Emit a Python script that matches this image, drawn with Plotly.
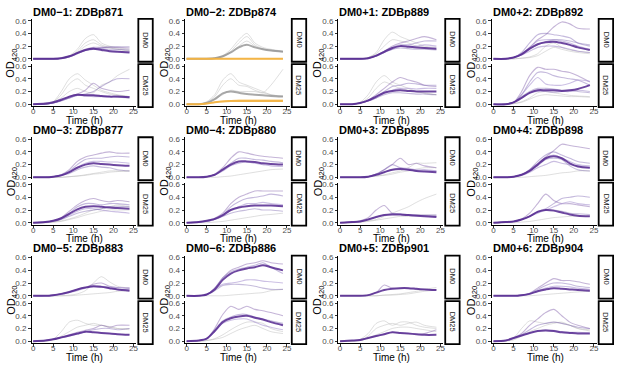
import plotly.graph_objects as go

W, H = 617, 392
T = [0, 3, 5, 7, 9, 11, 13, 15, 17, 19, 21, 24]
TITLES = ["DM0\u22121: ZDBp871", "DM0\u22122: ZDBp874", "DM0+1: ZDBp889", "DM0+2: ZDBp892",
          "DM0\u22123: ZDBp877", "DM0\u22124: ZDBp880", "DM0+3: ZDBp895", "DM0+4: ZDBp898",
          "DM0\u22125: ZDBp883", "DM0\u22126: ZDBp886", "DM0+5: ZDBp901", "DM0+6: ZDBp904"]
MEDIA = ["DM0", "DM25"]
Y_TICKS = [0.0, 0.2, 0.4, 0.6]
X_TICKS = [0, 5, 10, 15, 20, 25]

# ---- panel 1: DM0-1 ----
P1_DM0_GREY = [[0,0,0,0.01,0.05,0.15,0.32,0.38,0.25,0.2,0.17,0.15],
               [0,0,0,0.01,0.04,0.12,0.25,0.3,0.22,0.18,0.15,0.13],
               [0,0,0,0.01,0.03,0.1,0.2,0.25,0.2,0.17,0.15,0.12]]
P1_DM0_PURP = [[0,0,0,0.01,0.04,0.1,0.15,0.18,0.18,0.18,0.18,0.17],
               [0,0,0,0.01,0.04,0.09,0.14,0.17,0.16,0.15,0.15,0.14],
               [0,0,0,0.01,0.03,0.08,0.13,0.16,0.15,0.13,0.12,0.11],
               [0,0,0,0.01,0.03,0.08,0.13,0.15,0.17,0.19,0.19,0.19]]
P1_DM0_MEAN = [0,0,0,0.01,0.04,0.09,0.14,0.16,0.14,0.12,0.11,0.10]
P1_DM25_GREY = [[0,0,0.04,0.2,0.4,0.48,0.38,0.3,0.22,0.18,0.15,0.12],
                [0,0,0.03,0.15,0.32,0.4,0.3,0.25,0.2,0.16,0.14,0.12],
                [0,0,0.03,0.1,0.2,0.25,0.2,0.18,0.3,0.35,0.45,0.55]]
P1_DM25_PURP = [[0,0,0.02,0.06,0.12,0.16,0.22,0.33,0.25,0.22,0.2,0.22],
                [0,0,0.02,0.06,0.1,0.14,0.16,0.2,0.28,0.35,0.4,0.4],
                [0,0,0.02,0.06,0.1,0.14,0.13,0.12,0.12,0.12,0.12,0.12],
                [0,0,0.02,0.05,0.1,0.15,0.15,0.14,0.13,0.12,0.11,0.1]]
P1_DM25_MEAN = [0,0.01,0.03,0.07,0.12,0.15,0.14,0.14,0.13,0.12,0.12,0.11]

# ---- panel 2: DM0-2 (orange) ----
P2_DM0_GREY = [[0,0,0,0.01,0.05,0.15,0.3,0.4,0.25,0.18,0.15,0.12],
               [0,0,0,0.01,0.04,0.12,0.25,0.35,0.22,0.16,0.14,0.12],
               [0,0,0,0.01,0.03,0.1,0.2,0.28,0.2,0.15,0.13,0.11]]
P2_DM0_REF = [0,0,0,0.01,0.04,0.1,0.18,0.22,0.18,0.15,0.13,0.11]
P2_DM0_PURP = [[0,0,0,0,0,0,0,0,0,0,0,0]]
P2_DM0_MEAN = [0,0,0,0,0,0,0,0,0,0,0,0]
P2_DM25_GREY = [[0,0,0.04,0.15,0.38,0.48,0.35,0.3,0.25,0.2,0.15,0.13],
                [0,0,0.03,0.12,0.3,0.4,0.3,0.28,0.22,0.18,0.15,0.12],
                [0,0,0.02,0.08,0.15,0.22,0.2,0.2,0.2,0.18,0.3,0.55]]
P2_DM25_REF = [0,0,0.02,0.08,0.17,0.2,0.18,0.16,0.15,0.14,0.13,0.12]
P2_DM25_PURP = [[0,0,0.01,0.03,0.05,0.06,0.07,0.07,0.07,0.07,0.07,0.07]]
P2_DM25_MEAN = [0,0,0.01,0.03,0.045,0.05,0.05,0.05,0.05,0.05,0.05,0.05]

# ---- panel 3: DM0+1 ----
P3_DM0_GREY = [[0,0,0,0.02,0.1,0.3,0.42,0.35,0.3,0.25,0.2,0.18],
               [0,0,0,0.02,0.08,0.2,0.3,0.28,0.25,0.2,0.18,0.15]]
P3_DM0_PURP = [[0,0,0,0.01,0.05,0.12,0.2,0.25,0.28,0.32,0.35,0.3],
               [0,0,0,0.01,0.05,0.12,0.18,0.22,0.22,0.25,0.28,0.28],
               [0,0,0,0.01,0.04,0.1,0.15,0.2,0.2,0.2,0.22,0.2],
               [0,0,0,0.01,0.04,0.1,0.15,0.17,0.16,0.15,0.15,0.14]]
P3_DM0_MEAN = [0,0,0,0.01,0.05,0.11,0.17,0.2,0.19,0.18,0.17,0.16]
P3_DM25_GREY = [[0,0,0.03,0.15,0.35,0.45,0.35,0.3,0.25,0.2,0.18,0.15],
                [0,0,0.02,0.1,0.25,0.35,0.3,0.25,0.22,0.2,0.17,0.15]]
P3_DM25_PURP = [[0,0,0.02,0.06,0.15,0.25,0.35,0.42,0.38,0.35,0.3,0.28],
                [0,0,0.02,0.05,0.12,0.2,0.28,0.3,0.33,0.32,0.3,0.3],
                [0,0,0.02,0.05,0.1,0.18,0.22,0.25,0.25,0.24,0.25,0.25],
                [0,0,0.02,0.05,0.1,0.15,0.18,0.18,0.17,0.16,0.16,0.15]]
P3_DM25_MEAN = [0,0,0.02,0.06,0.12,0.18,0.21,0.22,0.21,0.2,0.2,0.2]

# ---- panel 4: DM0+2 ----
P4_DM0_GREY = [[0,0,0,0.01,0.03,0.08,0.2,0.25,0.18,0.14,0.12,0.1],
               [0,0,0,0.01,0.02,0.05,0.12,0.18,0.15,0.12,0.1,0.08]]
P4_DM0_PURP = [[0,0,0.02,0.08,0.18,0.3,0.38,0.5,0.58,0.55,0.48,0.47],
               [0,0,0.02,0.1,0.25,0.38,0.4,0.38,0.36,0.33,0.25,0.2],
               [0,0,0.02,0.08,0.18,0.28,0.3,0.3,0.28,0.25,0.2,0.15],
               [0,0,0.02,0.07,0.15,0.22,0.27,0.3,0.3,0.28,0.25,0.22],
               [0,0,0.02,0.06,0.12,0.18,0.2,0.2,0.18,0.15,0.12,0.1]]
P4_DM0_MEAN = [0,0,0.02,0.07,0.16,0.23,0.26,0.27,0.25,0.22,0.18,0.14]
P4_DM25_GREY = [[0,0,0.01,0.04,0.1,0.18,0.2,0.18,0.16,0.14,0.13,0.12],
                [0,0,0.01,0.03,0.08,0.13,0.15,0.14,0.13,0.12,0.12,0.11]]
P4_DM25_PURP = [[0,0,0.03,0.2,0.45,0.58,0.55,0.55,0.52,0.5,0.45,0.35],
                [0,0,0.03,0.15,0.35,0.5,0.5,0.45,0.42,0.4,0.38,0.3],
                [0,0,0.03,0.15,0.3,0.42,0.32,0.3,0.3,0.33,0.38,0.36],
                [0,0,0.03,0.12,0.2,0.25,0.25,0.24,0.22,0.22,0.2,0.18],
                [0,0,0.03,0.1,0.18,0.2,0.2,0.19,0.2,0.2,0.22,0.2]]
P4_DM25_MEAN = [0,0,0.03,0.1,0.18,0.22,0.22,0.22,0.21,0.22,0.24,0.3]

# ---- panel 5: DM0-3 ----
P5_DM0_GREY = [[0,0,0,0,0.01,0.02,0.04,0.06,0.08,0.1,0.1,0.1],
               [0,0,0,0,0.01,0.02,0.03,0.05,0.06,0.08,0.09,0.1]]
P5_DM0_PURP = [[0,0,0.01,0.04,0.12,0.25,0.32,0.35,0.38,0.4,0.38,0.38],
               [0,0,0.01,0.04,0.1,0.2,0.28,0.3,0.3,0.32,0.33,0.32],
               [0,0,0.01,0.03,0.08,0.16,0.22,0.25,0.25,0.24,0.24,0.22],
               [0,0,0.01,0.03,0.06,0.12,0.16,0.18,0.16,0.15,0.12,0.1]]
P5_DM0_MEAN = [0,0,0.01,0.03,0.08,0.15,0.2,0.22,0.21,0.2,0.19,0.18]
P5_DM25_GREY = [[0,0,0.01,0.03,0.06,0.1,0.15,0.2,0.22,0.25,0.28,0.25],
                [0,0,0.01,0.02,0.05,0.08,0.12,0.15,0.18,0.2,0.2,0.2]]
P5_DM25_PURP = [[0,0.01,0.03,0.08,0.18,0.28,0.35,0.38,0.35,0.33,0.35,0.33],
                [0,0.01,0.03,0.07,0.15,0.25,0.3,0.3,0.28,0.3,0.3,0.28],
                [0,0.01,0.03,0.06,0.12,0.18,0.22,0.22,0.2,0.18,0.17,0.15],
                [0,0.01,0.02,0.05,0.1,0.15,0.18,0.2,0.22,0.25,0.26,0.25]]
P5_DM25_MEAN = [0,0.01,0.03,0.07,0.14,0.21,0.25,0.26,0.25,0.24,0.23,0.22]

# ---- panel 6: DM0-4 ----
P6_DM0_GREY = [[0,0,0,0,0.01,0.02,0.04,0.06,0.08,0.1,0.12,0.13]]
P6_DM0_PURP = [[0,0,0.01,0.05,0.15,0.3,0.4,0.38,0.35,0.33,0.32,0.3],
               [0,0,0.01,0.04,0.12,0.22,0.3,0.3,0.28,0.27,0.25,0.23],
               [0,0,0.01,0.04,0.1,0.18,0.22,0.24,0.22,0.2,0.18,0.17]]
P6_DM0_MEAN = [0,0,0.01,0.04,0.12,0.2,0.25,0.25,0.24,0.22,0.21,0.2]
P6_DM25_GREY = [[0,0,0,0.01,0.02,0.04,0.06,0.08,0.1,0.12,0.13,0.15]]
P6_DM25_PURP = [[0,0.01,0.03,0.07,0.15,0.3,0.4,0.45,0.5,0.5,0.5,0.5],
                [0,0.01,0.03,0.06,0.12,0.25,0.33,0.38,0.4,0.42,0.45,0.42],
                [0,0.01,0.02,0.05,0.1,0.2,0.25,0.3,0.3,0.32,0.3,0.28],
                [0,0.01,0.02,0.05,0.1,0.15,0.18,0.2,0.22,0.2,0.2,0.18]]
P6_DM25_MEAN = [0,0.01,0.03,0.06,0.12,0.2,0.24,0.26,0.27,0.27,0.27,0.26]

# ---- panel 7: DM0+3 ----
P7_DM0_GREY = [[0,0,0,0.01,0.02,0.04,0.07,0.1,0.15,0.22,0.22,0.23],
               [0,0,0,0.01,0.02,0.03,0.05,0.08,0.1,0.13,0.15,0.15]]
P7_DM0_PURP = [[0,0,0,0.01,0.05,0.12,0.2,0.3,0.2,0.22,0.18,0.15],
               [0,0,0,0.01,0.05,0.12,0.2,0.15,0.12,0.1,0.1,0.1],
               [0,0,0,0.01,0.04,0.08,0.12,0.15,0.14,0.12,0.12,0.1]]
P7_DM0_MEAN = [0,0,0,0.01,0.04,0.08,0.12,0.13,0.12,0.1,0.09,0.08]
P7_DM25_GREY = [[0,0,0.01,0.03,0.05,0.1,0.15,0.2,0.25,0.32,0.38,0.45],
                [0,0,0.01,0.02,0.04,0.06,0.08,0.1,0.1,0.12,0.12,0.12]]
P7_DM25_PURP = [[0,0.01,0.03,0.08,0.2,0.27,0.15,0.13,0.12,0.12,0.11,0.1],
                [0,0.01,0.02,0.05,0.09,0.12,0.14,0.14,0.13,0.12,0.12,0.12]]
P7_DM25_MEAN = [0,0.01,0.02,0.05,0.09,0.12,0.13,0.13,0.12,0.11,0.1,0.09]

# ---- panel 8: DM0+4 ----
P8_DM0_GREY = [[0,0,0,0,0.01,0.02,0.03,0.05,0.07,0.08,0.1,0.1]]
P8_DM0_PURP = [[0,0,0.01,0.04,0.12,0.22,0.32,0.42,0.52,0.5,0.48,0.45],
               [0,0,0.01,0.04,0.12,0.25,0.35,0.4,0.35,0.3,0.25,0.22],
               [0,0,0.01,0.04,0.1,0.2,0.3,0.35,0.3,0.25,0.2,0.18],
               [0,0,0.01,0.04,0.1,0.18,0.28,0.3,0.28,0.18,0.12,0.1],
               [0,0,0.01,0.03,0.08,0.15,0.2,0.25,0.22,0.2,0.18,0.15]]
P8_DM0_MEAN = [0,0,0.01,0.04,0.1,0.2,0.3,0.33,0.3,0.22,0.17,0.15]
P8_DM25_GREY = [[0,0,0,0.01,0.02,0.04,0.06,0.08,0.09,0.1,0.1,0.1]]
P8_DM25_PURP = [[0,0.01,0.02,0.06,0.15,0.3,0.45,0.35,0.3,0.3,0.28,0.25],
                [0,0.01,0.02,0.05,0.1,0.18,0.22,0.3,0.38,0.4,0.42,0.4],
                [0,0.01,0.02,0.05,0.1,0.15,0.2,0.25,0.3,0.33,0.3,0.28],
                [0,0.01,0.02,0.05,0.1,0.17,0.2,0.2,0.18,0.15,0.14,0.13]]
P8_DM25_MEAN = [0,0.01,0.02,0.05,0.1,0.17,0.2,0.19,0.16,0.13,0.11,0.1]

# ---- panel 9: DM0-5 ----
P9_DM0_GREY = [[0,0,0,0,0,0.01,0.02,0.03,0.04,0.05,0.07,0.08],
               [0,0,0,0,0.01,0.03,0.08,0.2,0.3,0.22,0.15,0.12]]
P9_DM0_PURP = [[0,0,0.01,0.03,0.06,0.1,0.13,0.18,0.2,0.15,0.13,0.12],
               [0,0,0.01,0.03,0.06,0.1,0.13,0.15,0.15,0.12,0.1,0.1],
               [0,0,0.01,0.02,0.05,0.08,0.12,0.14,0.14,0.14,0.13,0.12]]
P9_DM0_MEAN = [0,0,0.01,0.03,0.06,0.1,0.13,0.15,0.14,0.12,0.1,0.08]
P9_DM25_GREY = [[0,0,0.03,0.15,0.3,0.33,0.28,0.25,0.25,0.22,0.2,0.2],
                [0,0,0.02,0.08,0.15,0.22,0.25,0.28,0.25,0.23,0.2,0.18]]
P9_DM25_PURP = [[0,0.01,0.03,0.06,0.1,0.14,0.17,0.2,0.25,0.22,0.25,0.25],
                [0,0.01,0.03,0.06,0.09,0.12,0.15,0.18,0.2,0.2,0.18,0.2],
                [0,0.01,0.03,0.05,0.08,0.11,0.14,0.14,0.13,0.12,0.11,0.1]]
P9_DM25_MEAN = [0,0.01,0.03,0.06,0.09,0.12,0.15,0.14,0.13,0.12,0.11,0.1]

# ---- panel 10: DM0-6 ----
P10_DM0_GREY = [[0,0,0,0,0,0.01,0.02,0.03,0.04,0.05,0.08,0.1]]
P10_DM0_PURP = [[0,0,0.02,0.12,0.28,0.4,0.45,0.5,0.52,0.55,0.52,0.5],
                [0,0,0.02,0.12,0.28,0.38,0.42,0.45,0.48,0.52,0.45,0.35],
                [0,0,0.02,0.1,0.18,0.2,0.22,0.25,0.25,0.23,0.22,0.2],
                [0,0,0.02,0.08,0.16,0.18,0.18,0.17,0.15,0.12,0.1,0.1]]
P10_DM0_MEAN = [0,0,0.02,0.1,0.25,0.35,0.4,0.43,0.45,0.48,0.45,0.4]
P10_DM25_GREY = [[0,0,0.01,0.04,0.1,0.18,0.25,0.3,0.3,0.28,0.2,0.15],
                 [0,0,0.01,0.03,0.06,0.12,0.18,0.22,0.25,0.2,0.15,0.12]]
P10_DM25_PURP = [[0,0.01,0.04,0.2,0.42,0.55,0.5,0.55,0.5,0.48,0.45,0.4],
                 [0,0.01,0.04,0.18,0.32,0.38,0.42,0.42,0.38,0.35,0.32,0.28],
                 [0,0.01,0.04,0.15,0.28,0.33,0.35,0.35,0.3,0.25,0.22,0.18]]
P10_DM25_MEAN = [0,0.01,0.04,0.16,0.3,0.36,0.39,0.4,0.37,0.34,0.3,0.25]

# ---- panel 11: DM0+5 ----
P11_DM0_GREY = [[0,0,0,0,0,0.01,0.02,0.03,0.05,0.07,0.1,0.13],
                [0,0,0,0,0,0.01,0.01,0.02,0.03,0.05,0.07,0.09]]
P11_DM0_PURP = [[0,0,0,0.01,0.05,0.17,0.12,0.12,0.12,0.1,0.1,0.09]]
P11_DM0_MEAN = [0,0,0,0.01,0.05,0.09,0.11,0.12,0.12,0.11,0.1,0.09]
P11_DM25_GREY = [[0,0,0.03,0.12,0.28,0.32,0.25,0.3,0.3,0.25,0.22,0.2],
                 [0,0,0.02,0.08,0.2,0.25,0.28,0.25,0.28,0.3,0.25,0.22],
                 [0,0,0.01,0.05,0.1,0.15,0.2,0.22,0.22,0.2,0.18,0.15]]
P11_DM25_PURP = [[0,0.01,0.02,0.05,0.08,0.11,0.14,0.13,0.12,0.11,0.12,0.18]]
P11_DM25_MEAN = [0,0.01,0.02,0.05,0.08,0.11,0.14,0.13,0.12,0.11,0.1,0.1]

# ---- panel 12: DM0+6 ----
P12_DM0_GREY = [[0,0,0,0,0,0.01,0.02,0.03,0.04,0.05,0.06,0.07]]
P12_DM0_PURP = [[0,0,0,0.01,0.04,0.12,0.2,0.27,0.24,0.24,0.22,0.18],
                [0,0,0,0.01,0.03,0.1,0.16,0.2,0.2,0.18,0.15,0.13],
                [0,0,0,0.01,0.03,0.08,0.12,0.15,0.15,0.14,0.12,0.1]]
P12_DM0_MEAN = [0,0,0,0.01,0.03,0.07,0.1,0.12,0.11,0.1,0.09,0.08]
P12_DM25_GREY = [[0,0,0.05,0.2,0.32,0.3,0.28,0.3,0.28,0.25,0.2,0.18],
                 [0,0,0.02,0.08,0.15,0.2,0.25,0.28,0.3,0.25,0.2,0.16]]
P12_DM25_PURP = [[0,0.01,0.05,0.12,0.25,0.35,0.45,0.5,0.4,0.3,0.25,0.2],
                 [0,0.01,0.05,0.1,0.18,0.25,0.28,0.3,0.28,0.25,0.22,0.2],
                 [0,0.01,0.04,0.09,0.13,0.16,0.18,0.17,0.15,0.14,0.14,0.13]]
P12_DM25_MEAN = [0,0.01,0.05,0.09,0.13,0.16,0.17,0.16,0.14,0.13,0.12,0.12]

PANELS = [
    ((P1_DM0_GREY, P1_DM0_PURP, P1_DM0_MEAN, None), (P1_DM25_GREY, P1_DM25_PURP, P1_DM25_MEAN, None)),
    ((P2_DM0_GREY, P2_DM0_PURP, P2_DM0_MEAN, P2_DM0_REF), (P2_DM25_GREY, P2_DM25_PURP, P2_DM25_MEAN, P2_DM25_REF)),
    ((P3_DM0_GREY, P3_DM0_PURP, P3_DM0_MEAN, None), (P3_DM25_GREY, P3_DM25_PURP, P3_DM25_MEAN, None)),
    ((P4_DM0_GREY, P4_DM0_PURP, P4_DM0_MEAN, None), (P4_DM25_GREY, P4_DM25_PURP, P4_DM25_MEAN, None)),
    ((P5_DM0_GREY, P5_DM0_PURP, P5_DM0_MEAN, None), (P5_DM25_GREY, P5_DM25_PURP, P5_DM25_MEAN, None)),
    ((P6_DM0_GREY, P6_DM0_PURP, P6_DM0_MEAN, None), (P6_DM25_GREY, P6_DM25_PURP, P6_DM25_MEAN, None)),
    ((P7_DM0_GREY, P7_DM0_PURP, P7_DM0_MEAN, None), (P7_DM25_GREY, P7_DM25_PURP, P7_DM25_MEAN, None)),
    ((P8_DM0_GREY, P8_DM0_PURP, P8_DM0_MEAN, None), (P8_DM25_GREY, P8_DM25_PURP, P8_DM25_MEAN, None)),
    ((P9_DM0_GREY, P9_DM0_PURP, P9_DM0_MEAN, None), (P9_DM25_GREY, P9_DM25_PURP, P9_DM25_MEAN, None)),
    ((P10_DM0_GREY, P10_DM0_PURP, P10_DM0_MEAN, None), (P10_DM25_GREY, P10_DM25_PURP, P10_DM25_MEAN, None)),
    ((P11_DM0_GREY, P11_DM0_PURP, P11_DM0_MEAN, None), (P11_DM25_GREY, P11_DM25_PURP, P11_DM25_MEAN, None)),
    ((P12_DM0_GREY, P12_DM0_PURP, P12_DM0_MEAN, None), (P12_DM25_GREY, P12_DM25_PURP, P12_DM25_MEAN, None)),
]

PURPLE_SHADES = ["rgba(140,107,177,0.5)", "rgba(117,90,175,0.42)", "rgba(170,150,210,0.6)",
                 "rgba(106,81,163,0.38)", "rgba(150,125,195,0.5)"]
ORANGE_SHADES = ["rgba(250,200,110,0.6)"]
GREY = "rgba(175,175,175,0.4)"
MEAN_PURPLE = "rgba(84,39,143,0.85)"
MEAN_ORANGE = "rgba(242,178,64,0.95)"
REF_GREY = "rgba(140,140,140,0.75)"

FONT = "Liberation Sans, Arial, sans-serif"
X_RANGE = [-0.4, 25.7]
Y_RANGE = [-0.03, 0.63]

fig = go.Figure()
layout = {}
shapes = []
annotations = []

def px_x(p):
    return p / W

def px_y(p):
    return 1 - p / H

for i, panel in enumerate(PANELS):
    r, c = divmod(i, 4)
    L = 30.7 + 154.2 * c
    R = L + 105.3
    orange = (i == 1)
    for m, (grey, purp, mean, ref) in enumerate(panel):
        k = 2 * i + m + 1
        top = 17 + 120 * r + (46 if m == 1 else 0)
        bot = top + 42.5
        xa = "x" if k == 1 else f"x{k}"
        ya = "y" if k == 1 else f"y{k}"
        for g in grey:
            fig.add_trace(go.Scatter(x=T, y=g, mode="lines", xaxis=xa, yaxis=ya,
                                     line=dict(color=GREY, width=1, shape="spline", smoothing=0.8),
                                     hoverinfo="skip", showlegend=False))
        if ref is not None:
            fig.add_trace(go.Scatter(x=T, y=ref, mode="lines", xaxis=xa, yaxis=ya,
                                     line=dict(color=REF_GREY, width=2, shape="spline", smoothing=0.8),
                                     hoverinfo="skip", showlegend=False))
        shades = ORANGE_SHADES if orange else PURPLE_SHADES
        for j, p in enumerate(purp):
            fig.add_trace(go.Scatter(x=T, y=p, mode="lines", xaxis=xa, yaxis=ya,
                                     line=dict(color=shades[j % len(shades)], width=1.1,
                                               shape="spline", smoothing=0.8),
                                     hoverinfo="skip", showlegend=False))
        fig.add_trace(go.Scatter(x=T, y=mean, mode="lines", xaxis=xa, yaxis=ya,
                                 line=dict(color=MEAN_ORANGE if orange else MEAN_PURPLE, width=2,
                                           shape="spline", smoothing=0.8),
                                 hoverinfo="skip", showlegend=False))
        xkey = "xaxis" if k == 1 else f"xaxis{k}"
        ykey = "yaxis" if k == 1 else f"yaxis{k}"
        bottom_panel = (m == 1)
        layout[xkey] = dict(domain=[px_x(L), px_x(R)], range=X_RANGE, anchor=ya,
                            showgrid=False, zeroline=False,
                            showline=bottom_panel, linecolor="black", linewidth=1,
                            ticks="outside" if bottom_panel else "", ticklen=2.5, tickcolor="#333",
                            tickvals=X_TICKS, showticklabels=bottom_panel,
                            ticklabelstandoff=-5,
                            tickfont=dict(size=8, color="#4d4d4d", family=FONT))
        layout[ykey] = dict(domain=[px_y(bot), px_y(top)], range=Y_RANGE, anchor=xa,
                            showgrid=False, zeroline=False, showline=True, linecolor="black",
                            linewidth=1, ticks="outside", ticklen=2.5, tickcolor="#333",
                            tickvals=Y_TICKS, ticktext=[f"{v:.1f}" for v in Y_TICKS],
                            tickfont=dict(size=8, color="#4d4d4d", family=FONT))
        # facet strip
        shapes.append(dict(type="rect", xref="paper", yref="paper",
                           x0=px_x(R + 2), x1=px_x(R + 16.5), y0=px_y(bot + 1), y1=px_y(top),
                           line=dict(color="black", width=1.8), fillcolor="white"))
        annotations.append(dict(text=MEDIA[m], xref="paper", yref="paper",
                                x=px_x(R + 9.25), y=px_y((top + bot) / 2), showarrow=False,
                                xanchor="center", yanchor="middle",
                                textangle=90, font=dict(size=7.5, color="#1a1a1a", family=FONT)))
    # title
    annotations.append(dict(text=f"<b>{TITLES[i]}</b>", xref="paper", yref="paper",
                            x=px_x(L - 1), y=px_y(10 + 119.5 * r), xanchor="left", yanchor="middle",
                            showarrow=False, font=dict(size=11, color="black", family=FONT)))
    # y title
    annotations.append(dict(text="OD<sub>420</sub>", xref="paper", yref="paper",
                            x=px_x(L - 20), y=px_y(62 + 120 * r), xanchor="center", yanchor="middle",
                            showarrow=False, textangle=-90,
                            font=dict(size=11, color="black", family=FONT)))
    # x title
    annotations.append(dict(text="Time (h)", xref="paper", yref="paper",
                            x=px_x((L + 1.6 + R) / 2), y=px_y(120 + 120 * r), xanchor="center",
                            yanchor="middle", showarrow=False,
                            font=dict(size=10, color="black", family=FONT)))

fig.update_layout(width=W, height=H, margin=dict(l=0, r=0, t=0, b=0),
                  paper_bgcolor="white", plot_bgcolor="white",
                  shapes=shapes, annotations=annotations, showlegend=False, **layout)
fig.write_html("out.html", config={"displayModeBar": False},
               post_script="document.body.style.margin='0';document.body.style.padding='0';")
